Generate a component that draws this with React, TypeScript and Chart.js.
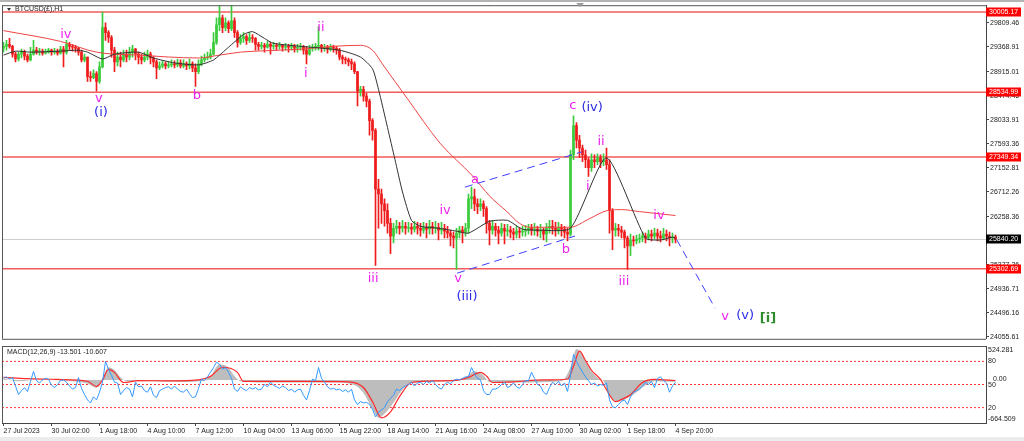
import React, { useEffect, useRef } from "react";
import { Chart, registerables } from "chart.js";

Chart.register(...registerables);

// ---------- DATA ----------
// 4-hour candles, index 0 = 27 Jul 2023
const tickIndex = [0, 16, 32, 48, 64, 80, 96, 112, 128, 144, 160, 176, 192, 208, 224];
const tickText = [
  "27 Jul 2023", "30 Jul 02:00", "1 Aug 18:00", "4 Aug 10:00", "7 Aug 12:00",
  "10 Aug 04:00", "13 Aug 06:00", "15 Aug 22:00", "18 Aug 14:00", "21 Aug 16:00",
  "24 Aug 08:00", "27 Aug 10:00", "30 Aug 02:00", "1 Sep 18:00", "4 Sep 20:00",
];
const priceTicks = [
  29809.46, 29368.91, 28915.01, 28474.46, 28033.91, 27593.36, 27152.81,
  26712.26, 26258.36, 25817.81, 25377.26, 24936.71, 24496.16, 24055.61,
];
const priceMin = 24020;
const priceMax = 30131;

const candleOpen = [
  29343,29378,29414,29378,29235,29146,29235,29271,29199,29128,
  29235,29307,29271,29289,29253,29271,29307,29271,29289,29253,
  29325,29271,29414,29378,29361,29343,29271,29128,29181,28823,
  28805,28877,28733,29002,29719,29629,29540,29307,29092,29181,
  29128,29235,29181,29271,29325,29235,29181,29128,29181,29235,
  29164,29092,28984,29020,29056,29020,29038,29056,29038,29074,
  29020,29056,29020,29056,28984,28913,29056,29128,29164,29181,
  29235,29450,29773,29898,29719,29809,29701,29844,29629,29450,
  29522,29558,29486,29540,29522,29414,29378,29396,29361,29414,
  29378,29396,29378,29396,29361,29378,29361,29378,29343,29361,
  29378,29307,29235,29343,29361,29378,29396,29343,29361,29325,
  29361,29343,29307,29181,29146,29128,29092,29056,28913,28554,
  28590,28465,28375,28017,27837,26762,26673,26493,26368,26135,
  25902,26045,26081,26045,26081,26045,26063,26028,26081,26045,
  26010,26063,26028,26081,26045,26063,26010,26045,25992,25956,
  25902,25866,25956,26010,25974,26045,26583,26619,26493,26440,
  26493,26404,26135,26010,26081,26010,25956,26045,25992,26010,
  25974,25938,25992,25974,25992,26010,26045,26010,26028,25992,
  26010,25938,26045,26081,26045,26010,26063,26028,25974,25938,
  27389,27927,27658,27515,27389,27300,27156,27300,27264,27336,
  27264,27300,27210,26368,26010,26045,26010,25974,25866,25723,
  25830,25812,25848,25866,25902,25866,25938,25902,25956,25902,
  25866,25938,25902,25866,25884,
];
const candleHigh = [
  29450,29486,29522,29396,29271,29271,29325,29307,29235,29361,
  29486,29361,29343,29325,29325,29343,29325,29343,29325,29378,
  29378,29486,29450,29414,29396,29361,29307,29235,29181,28913,
  28948,28913,29092,30006,29809,29665,29576,29361,29271,29271,
  29307,29307,29361,29396,29343,29271,29235,29271,29307,29271,
  29199,29128,29092,29110,29092,29092,29128,29110,29146,29128,
  29128,29092,29146,29092,29056,29128,29199,29235,29271,29325,
  29629,29898,30131,29952,29898,29844,30167,29898,29665,29594,
  29629,29594,29629,29594,29540,29450,29450,29432,29468,29450,
  29450,29432,29450,29414,29432,29414,29432,29414,29414,29432,
  29396,29378,29396,29414,29432,29737,29414,29414,29396,29414,
  29396,29378,29343,29217,29181,29164,29146,29092,28913,28644,
  28644,28518,28411,28052,27873,26941,26762,26583,26493,26225,
  26135,26189,26153,26189,26153,26153,26135,26171,26153,26135,
  26153,26135,26189,26153,26171,26135,26153,26117,26081,26010,
  25974,26045,26081,26081,26135,26673,26798,26762,26583,26583,
  26547,26440,26189,26189,26135,26081,26135,26117,26117,26081,
  26045,26081,26063,26081,26099,26117,26117,26135,26081,26117,
  26045,26135,26189,26189,26153,26153,26117,26081,26045,27479,
  28106,27981,27748,27569,27479,27336,27407,27389,27407,27389,
  27407,27515,27300,26404,26135,26117,26081,26010,25902,25938,
  25902,25920,25938,25974,25956,26010,26010,26045,26028,25992,
  26045,26010,25974,25956,25920,
];
const candleLow = [
  29271,29307,29343,29181,29092,29110,29164,29128,29092,29110,
  29217,29235,29217,29217,29235,29253,29217,29235,29217,29235,
  29002,29235,29307,29289,29271,29217,29092,29092,28733,28733,
  28787,28554,28698,28984,29486,29450,29181,28913,29020,29002,
  29092,29092,29128,29181,29128,29056,29056,29092,29128,29056,
  29002,28787,28948,28984,28966,28984,29002,28984,29002,28984,
  28984,28948,28966,28913,28644,28877,29020,29092,29128,29146,
  29217,29414,29665,29629,29665,29629,29665,29540,29361,29414,
  29450,29414,29450,29450,29307,29307,29325,29271,29343,29235,
  29325,29307,29325,29289,29307,29271,29307,29271,29271,29307,
  29235,29056,29217,29289,29307,29307,29271,29289,29253,29289,
  29271,29235,29128,29056,29056,29020,28948,28877,28285,28465,
  28375,28267,27748,27658,25364,26045,26135,26081,25956,25580,
  25777,25956,25938,25974,25938,25974,25938,25974,25938,25902,
  25956,25866,25938,25938,25956,25830,25938,25866,25866,25723,
  25687,25292,25866,25777,25902,25956,26404,26368,26314,26368,
  26261,25956,25741,25938,25902,25759,25902,25759,25902,25866,
  25830,25866,25866,25902,25902,25938,25920,25920,25902,25866,
  25830,25794,25956,25938,25902,25938,25902,25866,25812,25902,
  27300,27515,27336,27264,27156,26995,27085,27156,27210,27156,
  27192,27121,25956,25651,25902,25902,25866,25687,25292,25544,
  25723,25759,25777,25794,25777,25830,25812,25848,25812,25794,
  25830,25812,25723,25777,25777,
];
const candleClose = [
  29378,29414,29378,29235,29146,29235,29271,29199,29128,29235,
  29307,29271,29289,29253,29271,29307,29271,29289,29253,29325,
  29271,29414,29378,29361,29343,29271,29128,29181,28823,28805,
  28877,28733,29002,29719,29629,29540,29307,29092,29181,29128,
  29235,29181,29271,29325,29235,29181,29128,29181,29235,29164,
  29092,28984,29020,29056,29020,29038,29056,29038,29074,29020,
  29056,29020,29056,28984,28913,29056,29128,29164,29181,29235,
  29450,29773,29898,29719,29809,29701,29844,29629,29450,29522,
  29558,29486,29540,29522,29414,29378,29396,29361,29414,29378,
  29396,29378,29396,29361,29378,29361,29378,29343,29361,29378,
  29307,29235,29343,29361,29378,29396,29343,29361,29325,29361,
  29343,29307,29181,29146,29128,29092,29056,28913,28554,28590,
  28465,28375,28017,27837,26762,26673,26493,26368,26135,25902,
  26045,26081,26045,26081,26045,26063,26028,26081,26045,26010,
  26063,26028,26081,26045,26063,26010,26045,25992,25956,25902,
  25866,25956,26010,25974,26045,26583,26619,26493,26440,26493,
  26404,26135,26010,26081,26010,25956,26045,25992,26010,25974,
  25938,25992,25974,25992,26010,26045,26010,26028,25992,26010,
  25938,26045,26081,26045,26010,26063,26028,25974,25938,27389,
  27927,27658,27515,27389,27300,27156,27300,27264,27336,27264,
  27300,27210,26368,26010,26045,26010,25974,25866,25723,25830,
  25812,25848,25866,25902,25866,25938,25902,25956,25902,25866,
  25938,25902,25866,25884,25840,
];

// moving averages: [candle index, price]
const fastMA = [
  [0,29217],[4,29289],[9,29271],[19,29289],[25,29307],[28,29271],[33,29146],[37,29235],
  [45,29271],[50,29164],[57,29074],[65,29038],[70,29128],[75,29361],[80,29594],[83,29647],
  [87,29522],[90,29432],[99,29378],[112,29307],[119,29181],[123,28966],[125,28590],
  [128,27891],[130.5,27300],[133,26709],[136,26189],[139,26081],[145,26045],[151,25992],
  [155,25956],[162,26171],[168,26189],[173,26028],[179,26010],[189,26045],[201,27336],
  [214,25866],[219,25830],[223,25884],[224,25866],
];
const slowMA = [
  [0,29665],[19,29468],[31,29271],[45,29217],[65,29164],[72,29217],[79,29271],[84,29289],
  [99,29325],[110,29378],[119,29396],[123,29307],[126.5,29038],[134.5,28429],[145.5,27604],
  [156.5,26995],[162,26637],[167.8,26350],[172,26135],[175.5,26063],[188.8,26063],
  [195.5,26225],[201.2,26368],[206,26386],[212,26350],[224,26278],
];

const levelLines = [30005.17, 28534.99, 27349.34, 25302.69];
const lastPrice = 25840.2;

const channelUpper = [[153.8, 26798], [192.8, 27444]];
const channelLower = [[151.2, 25222], [190.5, 25903]];
const projectionLine = [[224.4, 25836], [237.2, 24581]];

// wave labels: text, candle index, price, degree
const waveText = ["iv","v","(i)","b","i","ii","iii","iv","v","(iii)","a","b","c","(iv)","i","ii","iii","iv","v","(v)","[i]"];
const waveIndex = [20.8,31.8,32.5,64.5,100.8,105.8,123.2,147.2,151.5,154.5,157.2,187.5,189.8,196.2,194.8,199.2,206.8,218.5,240.5,247.2,254.8];
const wavePrice = [29594,28411,28160,28482,28877,29719,25131,26368,25114,24791,26941,25651,28285,28250,26816,27640,25060,26277,24433,24451,24396];
const waveDegree = [0,0,1,0,0,0,0,0,0,1,0,0,0,1,0,0,0,0,0,1,2];

// MACD panel
const macdMin = -664.509;
const macdMax = 524.281;
const oscLevels = [80, 50, 20];
const macdHist = [
  [0,20],[5,-20],[10,0],[20,-10],[28,-60],[31,-120],[33,30],[35,196],[37,150],[39,40],[41,-20],
  [50,-20],[60,-30],[66,-20],[69,60],[72,242],[75,190],[77,60],[79,-20],[90,-40],[110,-40],
  [117,-80],[120,-200],[123,-450],[125,-586],[127,-520],[130,-350],[133,-150],[136,-40],
  [150,-20],[154,40],[157,133],[160,70],[162,-30],[170,-40],[186,-20],[189,200],[191,477],
  [193,380],[195,200],[198,30],[200,-20],[202,-250],[205,-336],[208,-280],[211,-188],
  [214,-80],[217,-20],[224,-30],
];
const macdSignal = [
  [0,39],[8,20],[18,8],[28,-20],[31,-101],[33,0],[35,164],[37,117],[40,-39],[45,-10],[55,-15],
  [65,0],[69,55],[73,196],[78,117],[80,-23],[100,-23],[115,-30],[120,-117],[123,-336],
  [126,-586],[129,-493],[132,-258],[136,-39],[145,-15],[152,0],[155,40],[159,117],[161,60],
  [163,-39],[170,-30],[180,0],[188,15],[190,211],[192,446],[194,300],[196,150],[199,8],
  [201,-150],[204,-336],[206,-300],[209,-227],[213,-39],[217,8],[224,-8],
];
const oscillator = [
  58,60,57,59,48,37,42,46,41,54, 67,55,52,56,58,57,49,46,50,55,
  56,53,48,44,46,59,45,37,30,26, 34,30,40,53,80,70,62,53,52,37,
  42,46,44,34,53,47,48,42,40,47, 36,33,42,44,46,47,44,48,44,41,
  40,44,38,33,34,45,57,55,60,66, 72,79,76,70,72,66,58,44,41,47,
  44,42,46,44,46,43,44,50,47,53, 49,47,45,48,46,42,44,40,43,44,
  36,30,42,57,55,72,58,53,47,44, 45,43,44,41,43,40,44,30,24,28,
  26,27,24,18,8,14,17,20,28,32, 36,44,42,46,48,50,53,48,52,53,
  50,54,52,55,50,46,44,50,53,51, 55,57,56,58,60,60,72,64,58,56,
  42,37,37,44,44,46,50,53,46,48, 52,47,45,50,55,55,66,58,50,48,
  40,37,46,53,50,54,48,52,41,62, 89,80,73,66,60,55,50,52,48,50,
  49,52,30,21,20,24,28,30,24,34, 40,42,44,48,53,50,54,46,58,60,
  55,52,40,48,53,
];

// ---------- STYLE ----------
const SLOT_MIN = -0.5;
const SLOT_MAX = 327.5;
const SMALL_FONT = '"Liberation Sans", Arial, sans-serif';
const SMALL_SIZE = 7;
const WAVE_FONT = '"DejaVu Sans", sans-serif';
const UP = "#3ccb3c";
const DOWN = "#ee1c1c";
const WAVE_COLORS = ["#ee22ee", "#2a2ae6", "#2e8b2e"];
const AXIS_W = 38;

const toPts = (arr: number[][]) => arr.map(([x, y]) => ({ x, y }));

const mainDecor = {
  id: "mainDecor",
  beforeDraw(chart: any) {
    const { ctx, width, height } = chart;
    ctx.save();
    ctx.fillStyle = "#ffffff";
    ctx.fillRect(0, 0, width, height);
    ctx.restore();
  },
  afterDatasetsDraw(chart: any) {
    const { ctx } = chart;
    const xs = chart.scales.x;
    const ys = chart.scales.y;
    ctx.save();
    ctx.textAlign = "center";
    ctx.textBaseline = "middle";
    waveText.forEach((t, k) => {
      ctx.font = (waveDegree[k] === 2 ? "bold " : "") + "13px " + WAVE_FONT;
      ctx.fillStyle = WAVE_COLORS[waveDegree[k]];
      ctx.fillText(t, xs.getPixelForValue(waveIndex[k]), ys.getPixelForValue(wavePrice[k]));
    });
    ctx.restore();
  },
  afterDraw(chart: any) {
    const { ctx, chartArea, width } = chart;
    const ys = chart.scales.y;
    const xs = chart.scales.x;
    ctx.save();
    // top band
    ctx.fillStyle = "#b4b4b4";
    ctx.fillRect(0, 0, width, 2);
    ctx.strokeStyle = "#555";
    ctx.lineWidth = 1;
    ctx.beginPath();
    ctx.moveTo(chartArea.left + 0.5, chartArea.top + 0.5);
    ctx.lineTo(chartArea.right, chartArea.top + 0.5);
    ctx.moveTo(chartArea.left + 0.5, chartArea.top);
    ctx.lineTo(chartArea.left + 0.5, chartArea.bottom);
    ctx.moveTo(chartArea.left, chartArea.bottom + 0.5);
    ctx.lineTo(chartArea.right, chartArea.bottom + 0.5);
    ctx.stroke();
    // shift marker
    const tx = xs.getPixelForValue(192.2);
    ctx.fillStyle = "#9a9a9a";
    ctx.beginPath();
    ctx.moveTo(tx - 4, 3);
    ctx.lineTo(tx + 4, 3);
    ctx.lineTo(tx, 7);
    ctx.closePath();
    ctx.fill();
    // title
    ctx.fillStyle = "#333";
    ctx.beginPath();
    ctx.moveTo(7, 8);
    ctx.lineTo(11, 8);
    ctx.lineTo(9, 11);
    ctx.closePath();
    ctx.fill();
    ctx.font = SMALL_SIZE + "px " + SMALL_FONT;
    ctx.textAlign = "left";
    ctx.textBaseline = "middle";
    ctx.fillStyle = "#222";
    ctx.fillText("BTCUSD(£),H1", 15, 9.5);
    // price boxes
    const box = (v: number, bg: string) => {
      const y = ys.getPixelForValue(v);
      ctx.fillStyle = bg;
      ctx.fillRect(chartArea.right, Math.round(y) - 4.5, 35, 9);
      ctx.fillStyle = "#ffffff";
      ctx.fillText(v.toFixed(2), chartArea.right + 3, Math.round(y));
    };
    levelLines.forEach((v) => box(v, "#ff0000"));
    box(lastPrice, "#000000");
    ctx.restore();
  },
};

const macdDecor = {
  id: "macdDecor",
  beforeDraw(chart: any) {
    const { ctx, width, height } = chart;
    ctx.save();
    ctx.fillStyle = "#ffffff";
    ctx.fillRect(0, 0, width, height);
    ctx.fillStyle = "#ececec";
    ctx.fillRect(0, height - 4, width, 4);
    ctx.restore();
  },
  afterDraw(chart: any) {
    const { ctx, chartArea } = chart;
    const ym = chart.scales.y;
    const yo = chart.scales.y2;
    ctx.save();
    ctx.strokeStyle = "#555";
    ctx.lineWidth = 1;
    ctx.beginPath();
    ctx.moveTo(chartArea.left + 0.5, chartArea.top + 0.5);
    ctx.lineTo(chartArea.right, chartArea.top + 0.5);
    ctx.moveTo(chartArea.left + 0.5, chartArea.top);
    ctx.lineTo(chartArea.left + 0.5, chartArea.bottom);
    ctx.stroke();
    ctx.font = SMALL_SIZE + "px " + SMALL_FONT;
    ctx.textAlign = "left";
    ctx.textBaseline = "middle";
    ctx.fillStyle = "#222";
    ctx.fillText("MACD(12,26,9) -13.501 -10.607", 7, chartArea.top + 6.5);
    const rx = chartArea.right + 2;
    ctx.fillText(macdMax.toFixed(3), rx, chartArea.top + 4);
    ctx.fillText(macdMin.toFixed(3), rx, chartArea.bottom - 4);
    ctx.fillText("0.00", rx + 5, ym.getPixelForValue(0) - 1);
    oscLevels.forEach((v) => {
      ctx.fillText(String(v), rx, yo.getPixelForValue(v) + (v === 50 ? 1 : 0));
    });
    ctx.restore();
  },
};

export default function App() {
  const mainRef = useRef<HTMLCanvasElement>(null);
  const macdRef = useRef<HTMLCanvasElement>(null);

  useEffect(() => {
    const idx = candleClose.map((_, i) => i);
    const colors = idx.map((i) => (candleClose[i] >= candleOpen[i] ? UP : DOWN));
    const hLine = (v: number) => [
      { x: SLOT_MIN, y: v },
      { x: SLOT_MAX, y: v },
    ];

    const mainDatasets: any[] = [
      ...levelLines.map((v) => ({
        type: "line",
        data: hLine(v),
        borderColor: "#f25c5c",
        borderWidth: 1.5,
        pointRadius: 0,
        order: 20,
      })),
      {
        type: "line",
        data: hLine(lastPrice),
        borderColor: "#cccccc",
        borderWidth: 1,
        pointRadius: 0,
        order: 21,
      },
      {
        type: "bar",
        data: idx.map((i) => ({ x: i, y: [candleLow[i], candleHigh[i]] })),
        backgroundColor: colors,
        barThickness: 1,
        grouped: false,
        borderWidth: 0,
        order: 12,
      },
      {
        type: "bar",
        data: idx.map((i) => ({ x: i, y: [candleOpen[i], candleClose[i]] })),
        backgroundColor: colors,
        barThickness: 2,
        grouped: false,
        borderWidth: 0,
        order: 11,
      },
      {
        type: "line",
        data: toPts(slowMA),
        borderColor: "#f04545",
        borderWidth: 1,
        pointRadius: 0,
        cubicInterpolationMode: "monotone",
        order: 6,
      },
      {
        type: "line",
        data: toPts(fastMA),
        borderColor: "#333333",
        borderWidth: 1,
        pointRadius: 0,
        tension: 0.2,
        order: 5,
      },
      ...[channelUpper, channelLower, projectionLine].map((l) => ({
        type: "line",
        data: toPts(l),
        borderColor: "#4040ff",
        borderWidth: 1,
        borderDash: [8, 5],
        pointRadius: 0,
        order: 3,
      })),
    ];

    const main = new Chart(mainRef.current as HTMLCanvasElement, {
      type: "bar",
      data: { datasets: mainDatasets },
      options: {
        responsive: false,
        animation: false,
        devicePixelRatio: 1,
        events: [],
        layout: { padding: { left: 2, top: 2, right: 0, bottom: 1 } },
        plugins: { legend: { display: false }, tooltip: { enabled: false } },
        scales: {
          x: { type: "linear", min: SLOT_MIN, max: SLOT_MAX, display: false, offset: false },
          y: {
            type: "linear",
            position: "right",
            min: priceMin,
            max: priceMax,
            afterBuildTicks: (s: any) => {
              s.ticks = priceTicks.map((v) => ({ value: v }));
            },
            afterFit: (s: any) => {
              s.width = AXIS_W;
            },
            ticks: {
              autoSkip: false,
              padding: 1,
              color: "#222",
              font: { family: SMALL_FONT, size: SMALL_SIZE },
              callback: (v: any) => Number(v).toFixed(2),
            },
            grid: { drawOnChartArea: false, drawTicks: true, tickLength: 3, color: "#444" },
            border: { display: true, color: "#444" },
          },
        },
      } as any,
      plugins: [mainDecor],
    } as any);

    const macd = new Chart(macdRef.current as HTMLCanvasElement, {
      type: "line",
      data: {
        datasets: [
          ...oscLevels.map((v) => ({
            data: hLine(v),
            yAxisID: "y2",
            borderColor: "#ff3a3a",
            borderWidth: 1,
            borderDash: [2, 2],
            pointRadius: 0,
            order: 20,
          })),
          {
            data: toPts(macdHist),
            yAxisID: "y",
            borderWidth: 0,
            borderColor: "rgba(0,0,0,0)",
            backgroundColor: "#bdbdbd",
            fill: "origin",
            pointRadius: 0,
            cubicInterpolationMode: "monotone",
            order: 15,
          },
          {
            data: toPts(macdSignal),
            yAxisID: "y",
            borderColor: "#ff2a2a",
            borderWidth: 1.2,
            pointRadius: 0,
            cubicInterpolationMode: "monotone",
            order: 10,
          },
          {
            data: oscillator.map((v, i) => ({ x: i, y: v })),
            yAxisID: "y2",
            borderColor: "#3399ff",
            borderWidth: 1,
            pointRadius: 0,
            order: 5,
          },
        ],
      },
      options: {
        responsive: false,
        animation: false,
        devicePixelRatio: 1,
        events: [],
        layout: { padding: { left: 2, top: 2, right: 0, bottom: 4 } },
        plugins: { legend: { display: false }, tooltip: { enabled: false } },
        scales: {
          x: {
            type: "linear",
            min: SLOT_MIN,
            max: SLOT_MAX,
            offset: false,
            afterBuildTicks: (s: any) => {
              s.ticks = tickIndex.map((v) => ({ value: v }));
            },
            afterFit: (s: any) => {
              s.height = 14;
            },
            ticks: {
              autoSkip: false,
              maxRotation: 0,
              align: "start",
              padding: 1,
              color: "#222",
              font: { family: SMALL_FONT, size: SMALL_SIZE },
              callback: (v: any) => tickText[tickIndex.indexOf(Math.round(Number(v)))] ?? "",
            },
            grid: { drawOnChartArea: false, drawTicks: true, tickLength: 3, color: "#444" },
            border: { display: true, color: "#444" },
          },
          y: {
            type: "linear",
            position: "right",
            min: macdMin,
            max: macdMax,
            afterFit: (s: any) => {
              s.width = AXIS_W;
            },
            ticks: { display: false },
            grid: { display: false },
            border: { display: true, color: "#444" },
          },
          y2: { type: "linear", position: "right", min: 0, max: 100, display: false },
        },
      } as any,
      plugins: [macdDecor],
    } as any);

    return () => {
      main.destroy();
      macd.destroy();
    };
  }, []);

  return (
    <div style={{ position: "fixed", left: 0, top: 0, width: 1024, height: 441, background: "#fff" }}>
      <canvas
        ref={mainRef}
        width={1024}
        height={344}
        style={{ position: "absolute", left: 0, top: 0, width: 1024, height: 344 }}
      />
      <canvas
        ref={macdRef}
        width={1024}
        height={97}
        style={{ position: "absolute", left: 0, top: 344, width: 1024, height: 97 }}
      />
    </div>
  );
}
